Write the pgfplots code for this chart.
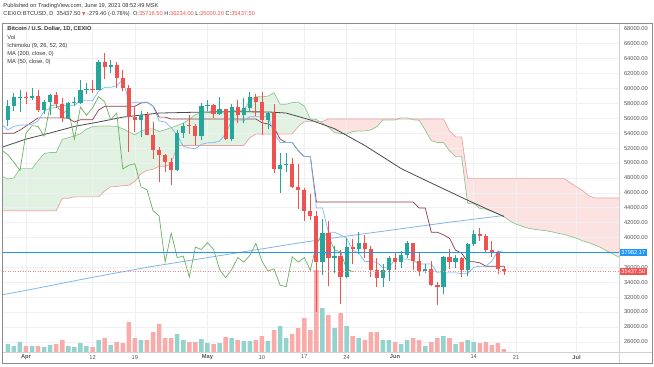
\documentclass[border=0pt]{standalone}
\usepackage{pgfplots}
\pgfplotsset{compat=1.18}
\usepackage{pgfplotstable}
\usepgfplotslibrary{fillbetween}
\usepackage{fontspec}
\setmainfont{Liberation Sans}
\newfontfamily\dejavu{DejaVu Sans}
\newcommand\tvfont{\fontsize{5.7bp}{6.8bp}\selectfont}

\definecolor{upc}{HTML}{26A69A}
\definecolor{dnc}{HTML}{EF5350}
\definecolor{volup}{HTML}{93D3CD}
\definecolor{voldn}{HTML}{F8ABA9}
\definecolor{tenc}{HTML}{7DB8EC}
\definecolor{kijc}{HTML}{8E3A48}
\definecolor{chic}{HTML}{68B060}
\definecolor{sac}{HTML}{8CC98F}
\definecolor{sbc}{HTML}{EFA0A0}
\definecolor{cloudg}{HTML}{E1F2E2}
\definecolor{cloudr}{HTML}{FCE3E2}
\definecolor{ma2c}{HTML}{7FB6EA}
\definecolor{ma5c}{HTML}{4A4A50}
\definecolor{hlc}{HTML}{2196F3}
\definecolor{txt}{HTML}{333333}
\definecolor{axtxt}{HTML}{555555}
\definecolor{gridc}{HTML}{EEF0F4}

% day index: 0 = 1 Apr 2021
\pgfplotstableread{
d o h l c v
-3 55800 58400 54900 57600 8
-2 57600 59400 57000 58800 6
-1 58750 59800 56900 58800 10
1 58700 60000 58500 59000 6
3 57100 58500 56600 58200 5
4 58200 59200 56500 59100 7
7 56000 58200 55900 58100 6
8 58090 58900 57700 58130 5
9 58100 61200 57900 59800 9
10 59800 60700 59300 59900 6
12 59850 63800 59800 63500 12
14 62900 63800 62100 63200 7
19 55700 57000 53500 56500 12
25 49000 54400 48900 54000 18
26 54000 55400 53300 55000 12
29 53600 58000 53100 57700 13
30 57700 58400 57000 57800 9
32 56600 58900 56500 57200 9
34 53200 57900 52900 57500 14
36 56400 58700 55300 57400 11
37 57400 59500 56900 58900 11
40 55800 56900 54500 56700 11
42 49200 51400 46000 49700 26
43 49700 51400 48800 49900 14
49 36700 42500 35000 40600 44
51 37300 38800 35300 37500 24
53 34700 39900 34500 38700 26
55 38400 40800 37800 39300 14
59 34600 36400 33400 35700 12
60 35700 37500 34200 37300 12
62 36700 38200 35900 37600 8
63 37600 39500 37200 39200 12
66 35500 36500 35300 35800 6
69 33400 37500 32400 37400 16
71 36700 37700 35900 37300 8
73 35600 39300 34800 39100 12
74 39100 41000 38800 40500 10
}\upt

\pgfplotstableread{
d o h l c v
0 58800 59500 57900 58700 6
2 59000 59800 56900 57100 6
5 59100 59500 57400 57900 8
6 57900 58700 55500 56000 12
11 59900 61200 59400 59850 5
13 63500 64800 61300 62900 14
15 63200 63500 60100 61400 10
16 61400 62500 59700 60000 9
17 60000 60400 51500 56200 30
18 56200 57500 54200 55700 14
20 56500 56800 53700 53800 12
21 53800 55500 50500 51700 20
22 51700 52100 47500 51100 28
23 51100 51200 48800 50100 14
24 50100 50600 47000 49000 14
27 55000 56400 53900 54900 10
28 54900 55200 52400 53600 10
31 57800 57900 56100 56600 8
33 57200 57300 53100 53200 15
35 57500 58400 55300 56400 12
38 58900 59300 56300 58200 12
39 58200 59500 53800 55800 16
41 56700 57900 48600 49200 22
44 49900 50700 46600 46800 18
45 46800 49800 43800 46400 24
46 46400 46600 42200 43600 34
47 43600 45800 42300 42900 22
48 42900 43500 30000 36700 82
50 40600 42200 33500 37300 37
52 37500 38300 31100 34700 39
54 38700 39800 36400 38400 16
56 39300 40400 37200 38400 12
57 38400 38900 34700 35700 20
58 35700 37300 33400 34600 20
61 37300 37900 35700 36700 10
64 39200 39300 35600 36800 14
65 36800 37900 34800 35500 12
67 35800 36800 33500 33600 10
68 33600 34000 31000 33400 14
70 37400 38400 35800 36700 14
72 37300 37400 34700 35600 10
75 40500 41300 39500 40200 9
76 40200 40500 38100 38300 10
77 38300 39500 37400 38100 7
78 38100 38200 35100 35716.5 9
79 35716.5 36234 35000.2 35437.5 3
}\dnt

\pgfplotstableread{
d t k
-4 55150 54000
-3 54450 54000
-2 54900 54000
-1 55100 54400
0 55100 54950
1 55200 55500
2 55650 56050
3 56950 56050
4 57350 56050
5 57450 56050
6 57750 56050
7 57750 56000
8 57750 55500
9 58350 55800
10 58350 55800
11 58350 55800
12 59650 57100
13 60150 57600
14 60150 57600
15 60350 57600
16 61250 57600
17 58150 57600
18 58150 57600
19 58150 58050
20 58150 58150
21 57650 57650
22 55650 56150
23 55500 56150
24 54750 55900
25 53700 55900
26 52250 55900
27 52000 55900
28 51900 55900
29 52500 55900
30 52700 55900
31 52700 55900
32 52950 55900
33 53900 55900
34 55650 55900
35 55650 55900
36 55650 55900
37 56200 55900
38 56200 55900
39 56200 55400
40 56200 55250
41 54050 54750
42 52750 53200
43 52750 52750
44 52750 52750
45 51650 51650
46 50850 50850
47 50850 50850
48 43950 44750
49 43950 44750
50 40700 44750
51 40700 44750
52 40350 44750
53 39900 44750
54 38300 44750
55 37900 44750
56 36750 44750
57 36800 44750
58 36650 44750
59 35950 44750
60 35950 44750
61 37100 44750
62 37100 44750
63 37100 44750
64 36900 44750
65 36450 43950
66 36450 43950
67 36450 40700
68 35250 40700
69 35250 40350
70 35250 39900
71 35250 38300
72 35150 37900
73 35150 36750
74 36000 36750
75 36150 36600
76 36150 36150
77 36850 36150
78 38200 36150
79 38000 36150
}\tenkij

\pgfplotstableread{
d a b
-4 48240 43600
-3 47840 43600
-2 47990 43600
-1 49240 43600
0 49240 43600
1 49240 43600
2 50310 43600
3 51260 43600
4 51410 43600
5 51410 43600
6 53175 45275
7 53375 45275
8 53650 45450
9 53925 45450
10 54550 45450
11 54850 45450
12 54950 45450
13 54950 46250
14 54950 46800
15 54925 46850
16 54575 46950
17 54175 47000
18 53775 47550
19 54275 48550
20 54575 49000
21 54575 49150
22 54225 49550
23 54450 49550
24 54750 49850
25 55025 52350
26 55350 52350
27 55850 52350
28 56500 52350
29 56700 52350
30 56750 52350
31 56900 52350
32 56875 52350
33 56625 52350
34 57075 52350
35 57075 52350
36 57075 52350
37 58375 53400
38 58875 53900
39 58875 53900
40 58975 53900
41 59425 53900
42 57875 53900
43 57875 53900
44 58100 53900
45 58150 54900
46 57650 55550
47 55900 55550
48 55825 55550
49 55325 55550
50 54800 55900
51 54075 55900
52 53950 55900
53 53900 55900
54 54200 55900
55 54300 55900
56 54300 55900
57 54425 55900
58 54900 55900
59 55775 55900
60 55775 55900
61 55775 55900
62 56050 55900
63 56050 55900
64 55800 55900
65 55725 55900
66 54400 55900
67 52975 55900
68 52750 55900
69 52750 55900
70 51650 54300
71 50850 53500
72 50850 53500
73 44600 47900
74 44600 47900
75 43900 47900
76 43800 47900
77 43500 47900
78 43200 47900
79 42800 47900
80 42200 47900
81 41800 47900
82 41500 47900
83 41250 47900
84 41100 47900
85 41000 47900
86 40900 47900
87 40750 47900
88 40550 47900
89 40400 47900
90 40150 47300
91 39900 46800
92 39550 46300
93 39300 45600
94 39000 45300
95 38650 45300
96 38200 45300
97 37800 45300
98 37350 45300
}\senk

\pgfplotstableread{
d c
-4 51700
-3 51100
-2 50100
-1 49000
0 54000
1 55000
2 54900
3 53600
4 57700
5 57800
6 56600
7 57200
8 53200
9 57500
10 56400
11 57400
12 58900
13 58200
14 55800
15 56700
16 49200
17 49700
18 49900
19 46800
20 46400
21 43600
22 42900
23 36700
24 40600
25 37300
26 37500
27 34700
28 38700
29 38400
30 39300
31 38400
32 35700
33 34600
34 35700
35 37300
36 36700
37 37600
38 39200
39 36800
40 35500
41 35800
42 33600
43 33400
44 37400
45 36700
46 37300
47 35600
48 39100
49 40500
50 40200
51 38300
52 38100
53 35716.5
54 35437.5
}\chik

\pgfplotstableread{
d m
-4 32300
0 32900
5 33700
10 34500
15 35250
20 36000
25 36650
30 37300
35 37950
40 38600
45 39250
50 39850
55 40400
60 40950
65 41500
70 42050
75 42550
79 42950
}\mab

\pgfplotstableread{
d m
-4 52100
0 53200
4 54030
8 54900
12 55500
16 56150
22 56700
32 56880
40 56850
43 56700
47 55770
51 54600
56 52350
62 49250
67 47300
73 45000
79 42800
}\maf

\begin{document}
\begin{tikzpicture}[x=1bp,y=1bp]
\path (0,0) rectangle (654,366);

% grid and scale labels
\begin{axis}[at={(2.5bp,14bp)}, anchor=south west, scale only axis,
  width=616.5bp, height=328bp,
  xmin=-3.884, xmax=98.02, ymin=24631, ymax=68650,
  axis line style={draw=none}, tick style={draw=none},
  xtick={0,11,18,30,39,46,53,61,74,81,91},
  xticklabels={\textbf{Apr},12,19,\textbf{May},10,17,24,\textbf{Jun},14,21,\textbf{Jul}},
  ytick={26000,28000,30000,32000,34000,36000,40000,42000,44000,46000,48000,50000,52000,54000,56000,58000,60000,62000,64000,66000,68000},
  yticklabel pos=right,
  scaled y ticks=false,
  grid=major, major grid style={draw=gridc, line width=0.5bp},
  tick label style={font=\tvfont, text=axtxt},
  yticklabel style={anchor=west, xshift=1.5bp},
  xticklabel style={yshift=0.5bp},
  /pgf/number format/.cd, fixed, fixed zerofill, precision=2, 1000 sep={}, assume math mode=true]
\addplot[draw=none] coordinates {(0,40000)};
\end{axis}

% volume
\begin{axis}[at={(2.5bp,14bp)}, anchor=south west, scale only axis,
  width=616.5bp, height=328bp,
  xmin=-3.884, xmax=98.02, ymin=0, ymax=328, hide axis]
\addplot[ybar, bar width=4.5bp, bar shift=0pt, fill=volup, draw=none] table[x=d, y=v] {\upt};
\addplot[ybar, bar width=4.5bp, bar shift=0pt, fill=voldn, draw=none] table[x=d, y=v] {\dnt};
\end{axis}

% price
\begin{axis}[at={(2.5bp,14bp)}, anchor=south west, scale only axis,
  width=616.5bp, height=328bp,
  xmin=-3.884, xmax=98.02, ymin=24631, ymax=68650, hide axis, no markers]
\addplot[draw=none, name path=sa, forget plot] table[x=d, y=a] {\senk};
\addplot[draw=none, name path=sb, forget plot] table[x=d, y=b] {\senk};
\addplot[draw=none, forget plot] fill between[of=sa and sb, split,
  every segment no 0/.style={fill=cloudg},
  every segment no 1/.style={fill=cloudr},
  every segment no 2/.style={fill=cloudg},
  every segment no 3/.style={fill=cloudr},
  every segment no 4/.style={fill=cloudg}];
\addplot[sac, line width=0.7bp] table[x=d, y=a] {\senk};
\addplot[sbc, line width=0.7bp] table[x=d, y=b] {\senk};
\addplot[ma2c, line width=0.8bp] table[x=d, y=m] {\mab};
\addplot[ma5c, line width=0.8bp] table[x=d, y=m] {\maf};
\addplot[chic, line width=0.7bp] table[x=d, y=c] {\chik};
\addplot[kijc, line width=0.7bp] table[x=d, y=k] {\tenkij};
\addplot[tenc, line width=0.7bp] table[x=d, y=t] {\tenkij};
% wicks
\addplot[draw=none, mark=none, error bars/.cd, y dir=plus, y explicit, error mark=none,
  error bar style={draw=upc, line width=0.8bp}]
  table[x=d, y=l, y error plus expr={\thisrow{h}-\thisrow{l}}] {\upt};
\addplot[draw=none, mark=none, error bars/.cd, y dir=plus, y explicit, error mark=none,
  error bar style={draw=dnc, line width=0.8bp}]
  table[x=d, y=l, y error plus expr={\thisrow{h}-\thisrow{l}}] {\dnt};
% bodies
\addplot[draw=none, mark=none, error bars/.cd, y dir=plus, y explicit, error mark=none,
  error bar style={draw=upc, line width=4.2bp}]
  table[x=d, y=o, y error plus expr={max(\thisrow{c}-\thisrow{o},140)}] {\upt};
\addplot[draw=none, mark=none, error bars/.cd, y dir=plus, y explicit, error mark=none,
  error bar style={draw=dnc, line width=4.2bp}]
  table[x=d, y=c, y error plus expr={max(\thisrow{o}-\thisrow{c},140)}] {\dnt};
% current price and horizontal level
\addplot[dnc!70, line width=0.5bp, dash pattern=on 1bp off 1.5bp] coordinates {(-3.884,35437.5) (98.02,35437.5)};
\addplot[hlc, line width=1.6bp] coordinates {(-3.884,37982.17) (98.02,37982.17)};
\coordinate (hlpt) at (axis cs:98.02,37982.17);
\coordinate (cppt) at (axis cs:98.02,35437.5);
\end{axis}

% price boxes
\node[fill=hlc, text=white, font=\tvfont, anchor=west, inner xsep=2.2bp, inner ysep=1.3bp] at (hlpt) {37982.17};
\node[fill=dnc, text=white, font=\tvfont, anchor=west, inner xsep=2.2bp, inner ysep=1.3bp] at (cppt) {35437.50};

% frame
\draw[black!18, line width=0.6bp] (619,3) -- (619,342.5);
\draw[black!18, line width=0.6bp] (2,14) -- (652,14);
\draw[black!45, line width=0.8bp] (2,3) rectangle (652,342.5);

% header
\node[anchor=west, inner sep=0, font=\tvfont, text=txt] at (3.3,360) {Published on TradingView.com, June 19, 2021 08:52:49 MSK};
\node[anchor=west, inner sep=0, font=\tvfont, text=txt] at (3.3,352)
  {CEXIO:BTCUSD, D\ \ 35437.50 {\dejavu\color{dnc}\fontsize{4.5bp}{5bp}\selectfont ▼} -279.40 (-0.78\%)\ \ O:{\color{dnc}35716.50} H:{\color{dnc}36234.00} L:{\color{dnc}35000.20} C:{\color{dnc}35437.50}};

% legend
\node[anchor=west, inner sep=0, font=\tvfont\bfseries, text=txt] at (7.3,336.7) {Bitcoin / U.S. Dollar, 1D, CEXIO};
\node[anchor=west, inner sep=0, font=\tvfont, text=txt] at (7.3,328.3) {Vol};
\node[anchor=west, inner sep=0, font=\tvfont, text=txt] at (7.3,320.3) {Ichimoku (9, 26, 52, 26)};
\node[anchor=west, inner sep=0, font=\tvfont, text=txt] at (7.3,312) {MA (200, close, 0)};
\node[anchor=west, inner sep=0, font=\tvfont, text=txt] at (7.3,304.3) {MA (50, close, 0)};
\end{tikzpicture}
\end{document}
